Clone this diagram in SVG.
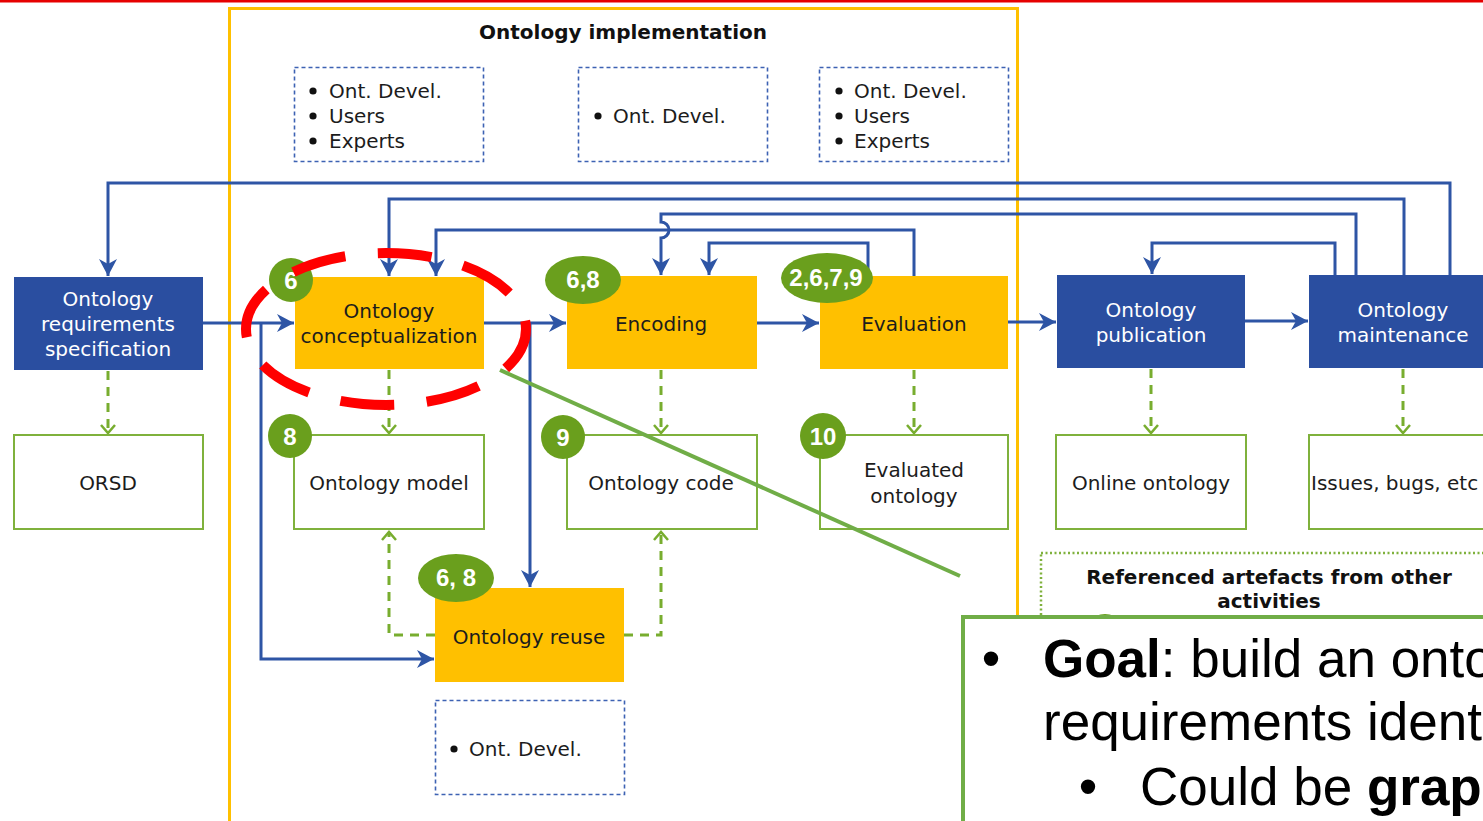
<svg xmlns="http://www.w3.org/2000/svg" width="1483" height="821" viewBox="0 0 1483 821">
  <defs>
    <marker id="arrow-blue" markerUnits="userSpaceOnUse" markerWidth="18" markerHeight="18" refX="17" refY="9" orient="auto">
      <path d="M0,0 L17,9 L0,18 L5,9 z" fill="#2e55a5"/>
    </marker>
    <marker id="arrow-green" markerUnits="userSpaceOnUse" markerWidth="14" markerHeight="16" refX="10" refY="8" orient="auto">
      <path d="M2,1 L10,8 L2,15" fill="none" stroke="#78ad2f" stroke-width="2.5" stroke-dasharray="none"/>
    </marker>
    <style>
      .flow { fill: none; stroke: #2e55a5; stroke-width: 3; marker-end: url(#arrow-blue); }
      .produces { fill: none; stroke: #78ad2f; stroke-width: 3; stroke-dasharray: 9 7; marker-end: url(#arrow-green); }
      .activity-blue { fill: #2a4ea0; }
      .activity-yellow { fill: #ffc000; }
      .artefact { fill: #ffffff; stroke: #7fb13c; stroke-width: 2; }
      .roles { fill: #ffffff; stroke: #3d62b3; stroke-width: 1.6; stroke-dasharray: 4 3; }
      .bullet { fill: #111111; }
      .badge { fill: #6a9f1d; }
      .lbl { font-family: "DejaVu Sans", Verdana, sans-serif; font-size: 20px; fill: #1c1c1c; }
      .lbl-w { font-family: "DejaVu Sans", Verdana, sans-serif; font-size: 20px; fill: #ffffff; }
      .mid { text-anchor: middle; }
      .badge-txt { font-family: "Liberation Sans", Arial, sans-serif; font-weight: bold; font-size: 24px; fill: #ffffff; text-anchor: middle; }
      .title { font-family: "DejaVu Sans", Verdana, sans-serif; font-weight: bold; font-size: 20px; fill: #111; text-anchor: middle; }
      .note { font-family: "Liberation Sans", Arial, sans-serif; font-size: 53px; fill: #000; }
    </style>
  </defs>

  <rect x="0" y="0" width="1483" height="821" fill="#ffffff"/>
  <!-- slide accent line -->
  <rect x="0" y="0" width="1483" height="2.5" fill="#e60000"/>

  <!-- implementation frame -->
  <g id="implementation-frame">
    <rect x="229.5" y="8.5" width="788" height="840" fill="none" stroke="#ffc000" stroke-width="3"/>
    <text class="title" x="623" y="39">Ontology implementation</text>
  </g>

  <!-- role boxes -->
  <g id="roles-conceptualization">
    <rect class="roles" x="294.5" y="67.5" width="189" height="94"/>
    <circle class="bullet" cx="313" cy="91" r="3.6"/>
    <circle class="bullet" cx="313" cy="116" r="3.6"/>
    <circle class="bullet" cx="313" cy="141" r="3.6"/>
    <text class="lbl" x="329" y="98">Ont. Devel.</text>
    <text class="lbl" x="329" y="123">Users</text>
    <text class="lbl" x="329" y="148">Experts</text>
  </g>
  <g id="roles-encoding">
    <rect class="roles" x="578.5" y="67.5" width="189" height="94"/>
    <circle class="bullet" cx="598" cy="116" r="3.6"/>
    <text class="lbl" x="613" y="123">Ont. Devel.</text>
  </g>
  <g id="roles-evaluation">
    <rect class="roles" x="819.5" y="67.5" width="189" height="94"/>
    <circle class="bullet" cx="839" cy="91" r="3.6"/>
    <circle class="bullet" cx="839" cy="116" r="3.6"/>
    <circle class="bullet" cx="839" cy="141" r="3.6"/>
    <text class="lbl" x="854" y="98">Ont. Devel.</text>
    <text class="lbl" x="854" y="123">Users</text>
    <text class="lbl" x="854" y="148">Experts</text>
  </g>
  <g id="roles-reuse">
    <rect class="roles" x="435.5" y="700.5" width="189" height="94"/>
    <circle class="bullet" cx="454" cy="749" r="3.6"/>
    <text class="lbl" x="469" y="756">Ont. Devel.</text>
  </g>

  <!-- connectors -->
  <g id="connectors">
    <!-- main flow -->
    <path class="flow" d="M203,323 H294"/>
    <path class="flow" d="M484,323 H566"/>
    <path class="flow" d="M757,323 H819"/>
    <path class="flow" d="M1008,322 H1056"/>
    <path class="flow" d="M1245,321 H1308"/>
    <!-- feedback loops -->
    <path class="flow" d="M1450,275 V183 H108 V276"/>
    <path class="flow" d="M1404,275 V199 H389 V276"/>
    <path class="flow" d="M1356,275 V214 H661 V222 A8,8 0 0 1 661,238 V275"/>
    <path class="flow" d="M914,276 V230 H436 V276"/>
    <path class="flow" d="M868,276 V243 H709 V275"/>
    <path class="flow" d="M1335,275 V243 H1152 V274"/>
    <!-- branches to reuse -->
    <path class="flow" d="M261,323 V659 H434"/>
    <path class="flow" d="M530,323 V587"/>
    <!-- produced artefacts -->
    <path class="produces" d="M108,371 V433"/>
    <path class="produces" d="M389,370 V433"/>
    <path class="produces" d="M661,370 V433"/>
    <path class="produces" d="M914,370 V433"/>
    <path class="produces" d="M1151,369 V433"/>
    <path class="produces" d="M1403,369 V433"/>
    <path class="produces" d="M435,635 H389 V532"/>
    <path class="produces" d="M624,635 H661 V532"/>
  </g>

  <!-- activities -->
  <g id="requirements-specification">
    <rect class="activity-blue" x="14" y="277" width="189" height="93"/>
    <text class="lbl-w mid" x="108" y="306">Ontology</text>
    <text class="lbl-w mid" x="108" y="331">requirements</text>
    <text class="lbl-w mid" x="108" y="356">specification</text>
  </g>
  <g id="conceptualization">
    <rect class="activity-yellow" x="295" y="277" width="189" height="92"/>
    <text class="lbl mid" x="389" y="318">Ontology</text>
    <text class="lbl mid" x="389" y="343">conceptualization</text>
  </g>
  <g id="encoding">
    <rect class="activity-yellow" x="567" y="276" width="190" height="93"/>
    <text class="lbl mid" x="661" y="331">Encoding</text>
  </g>
  <g id="evaluation">
    <rect class="activity-yellow" x="820" y="276" width="188" height="93"/>
    <text class="lbl mid" x="914" y="331">Evaluation</text>
  </g>
  <g id="publication">
    <rect class="activity-blue" x="1057" y="275" width="188" height="93"/>
    <text class="lbl-w mid" x="1151" y="317">Ontology</text>
    <text class="lbl-w mid" x="1151" y="342">publication</text>
  </g>
  <g id="maintenance">
    <rect class="activity-blue" x="1309" y="275" width="190" height="93"/>
    <text class="lbl-w mid" x="1403" y="317">Ontology</text>
    <text class="lbl-w mid" x="1403" y="342">maintenance</text>
  </g>
  <g id="reuse">
    <rect class="activity-yellow" x="435" y="588" width="189" height="94"/>
    <text class="lbl mid" x="529" y="644">Ontology reuse</text>
  </g>

  <!-- artefacts -->
  <g id="orsd">
    <rect class="artefact" x="14" y="435" width="189" height="94"/>
    <text class="lbl mid" x="108" y="490">ORSD</text>
  </g>
  <g id="ontology-model">
    <rect class="artefact" x="294" y="435" width="190" height="94"/>
    <text class="lbl mid" x="389" y="490">Ontology model</text>
  </g>
  <g id="ontology-code">
    <rect class="artefact" x="567" y="435" width="190" height="94"/>
    <text class="lbl mid" x="661" y="490">Ontology code</text>
  </g>
  <g id="evaluated-ontology">
    <rect class="artefact" x="820" y="435" width="188" height="94"/>
    <text class="lbl mid" x="914" y="477">Evaluated</text>
    <text class="lbl mid" x="914" y="503">ontology</text>
  </g>
  <g id="online-ontology">
    <rect class="artefact" x="1056" y="435" width="190" height="94"/>
    <text class="lbl mid" x="1151" y="490">Online ontology</text>
  </g>
  <g id="issues">
    <rect class="artefact" x="1309" y="435" width="190" height="94"/>
    <text class="lbl" x="1311" y="490">Issues, bugs, etc</text>
  </g>

  <!-- referenced artefacts legend -->
  <g id="referenced-artefacts">
    <rect x="1041" y="553" width="460" height="120" fill="none" stroke="#7fb13c" stroke-width="2.5" stroke-dasharray="2 2.5"/>
    <text class="title" x="1269" y="584">Referenced artefacts from other</text>
    <text class="title" x="1269" y="608">activities</text>
    <circle class="badge" cx="1105" cy="637" r="23"/>
  </g>

  <!-- step badges -->
  <g id="badges">
    <circle class="badge" cx="291" cy="280" r="22"/>
    <text class="badge-txt" x="291" y="289">6</text>
    <ellipse class="badge" cx="583" cy="280" rx="38" ry="24"/>
    <text class="badge-txt" x="583" y="288">6,8</text>
    <ellipse class="badge" cx="827" cy="278" rx="46" ry="25"/>
    <text class="badge-txt" x="826" y="286">2,6,7,9</text>
    <circle class="badge" cx="290" cy="436" r="22"/>
    <text class="badge-txt" x="290" y="445">8</text>
    <circle class="badge" cx="563" cy="437" r="22"/>
    <text class="badge-txt" x="563" y="446">9</text>
    <circle class="badge" cx="823" cy="436" r="23"/>
    <text class="badge-txt" x="823" y="445">10</text>
    <ellipse class="badge" cx="456" cy="578" rx="38" ry="24"/>
    <text class="badge-txt" x="456" y="586">6, 8</text>
  </g>

  <!-- highlight on the conceptualization activity -->
  <g id="highlight">
    <ellipse cx="386" cy="329" rx="140" ry="76" fill="none" stroke="#ff0000" stroke-width="10" pathLength="704" stroke-dasharray="55 33" stroke-dashoffset="8.5"/>
    <line x1="500" y1="370" x2="960" y2="576" stroke="#70ad47" stroke-width="4"/>
  </g>

  <!-- callout text box -->
  <g id="callout">
    <rect x="963" y="617" width="540" height="230" fill="#ffffff" stroke="#70ad47" stroke-width="4"/>
    <text class="note mid" x="991" y="677">•</text>
    <text class="note" x="1043" y="677"><tspan font-weight="bold">Goal</tspan>: build an onto</text>
    <text class="note" x="1043" y="740">requirements ident</text>
    <text class="note mid" x="1088" y="805">•</text>
    <text class="note" x="1140" y="805">Could be <tspan font-weight="bold">grap</tspan></text>
  </g>
</svg>
